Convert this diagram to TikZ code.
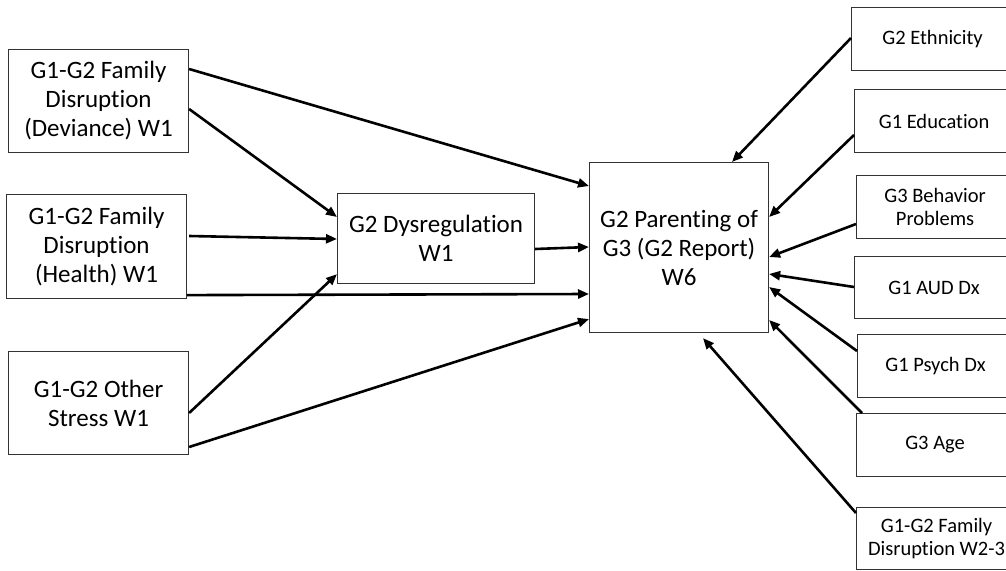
\documentclass[tikz,border=0pt]{standalone}
\usepackage{fontspec}
\setmainfont{Carlito}[Ligatures=NoCommon]
\usetikzlibrary{arrows.meta}
\begin{document}
\begin{tikzpicture}[x=1pt,y=-1pt,
  box/.style={draw=black!80,line width=1.1pt,fill=white,anchor=north west,inner sep=0pt,align=center},
  bigtxt/.style={font=\fontsize{25}{29}\selectfont},
  smalltxt/.style={font=\fontsize{20.5}{23.5}\selectfont},
  arr/.style={line width=2.6pt,-{Triangle[length=11pt,width=9pt]},shorten >=0pt}]
\useasboundingbox (0,0) rectangle (1006,570);
% left boxes
\node[box,bigtxt,minimum width=180pt,minimum height=103pt] (dev) at (8,49) {G1-G2 Family\\Disruption\\(Deviance) W1};
\node[box,bigtxt,minimum width=180pt,minimum height=104pt] (hea) at (6,194) {G1-G2 Family\\Disruption\\(Health) W1};
\node[box,bigtxt,minimum width=180pt,minimum height=103pt] (oth) at (8,351) {G1-G2 Other\\Stress W1};
% middle
\node[box,bigtxt,minimum width=197pt,minimum height=90pt] (dys) at (337,193) {G2 Dysregulation\\W1};
\node[box,bigtxt,minimum width=179pt,minimum height=170pt] (par) at (589,162) {G2 Parenting of\\G3 (G2 Report)\\W6};
% right boxes
\node[box,smalltxt,minimum width=162pt,minimum height=63pt] (eth) at (851,7) {G2 Ethnicity};
\node[box,smalltxt,minimum width=159pt,minimum height=63pt] (edu) at (854,89) {G1 Education};
\node[box,smalltxt,minimum width=157pt,minimum height=63pt] (beh) at (856,175) {G3 Behavior\\Problems};
\node[box,smalltxt,minimum width=159pt,minimum height=62pt] (aud) at (854,256) {G1 AUD Dx};
\node[box,smalltxt,minimum width=156pt,minimum height=63pt] (psy) at (857,334) {G1 Psych Dx};
\node[box,smalltxt,minimum width=157pt,minimum height=63pt] (age) at (856,413) {G3 Age};
\node[box,smalltxt,minimum width=160pt,minimum height=62pt] (w23) at (856,507) {G1-G2 Family\\Disruption W2-3};
% arrows from left
\draw[arr] ([yshift=-20pt]dev.north east) -- ([yshift=-24pt]par.north west);
\draw[arr] ([yshift=-60pt]dev.north east) -- ([yshift=-24pt]dys.north west);
\draw[arr] ([xshift=2pt,yshift=-42pt]hea.north east) -- ([yshift=-46pt]dys.north west);
\draw[arr] ([yshift=4pt]hea.south east) -- ([yshift=-132pt]par.north west);
\draw[arr] ([yshift=-62pt]oth.north east) -- ([yshift=10pt]dys.south west);
\draw[arr] ([yshift=-96pt]oth.north east) -- ([yshift=14pt]par.south west);
\draw[arr] ([yshift=-56pt]dys.north east) -- ([yshift=-85pt]par.north west);
% arrows from right
\draw[arr] ([yshift=-31pt]eth.north west) -- ([xshift=143pt]par.north west);
\draw[arr] ([yshift=-46pt]edu.north west) -- ([yshift=-55pt]par.north east);
\draw[arr] ([yshift=-49pt]beh.north west) -- ([yshift=-95pt]par.north east);
\draw[arr] ([yshift=-31pt]aud.north west) -- ([yshift=-112pt]par.north east);
\draw[arr] ([yshift=-17pt]psy.north west) -- ([yshift=-125pt]par.north east);
\draw[arr] ([xshift=6pt]age.north west) -- ([yshift=-158pt]par.north east);
\draw[arr] ([yshift=-6pt]w23.north west) -- ([xshift=114pt,yshift=-5pt]par.south west);
\end{tikzpicture}
\end{document}
